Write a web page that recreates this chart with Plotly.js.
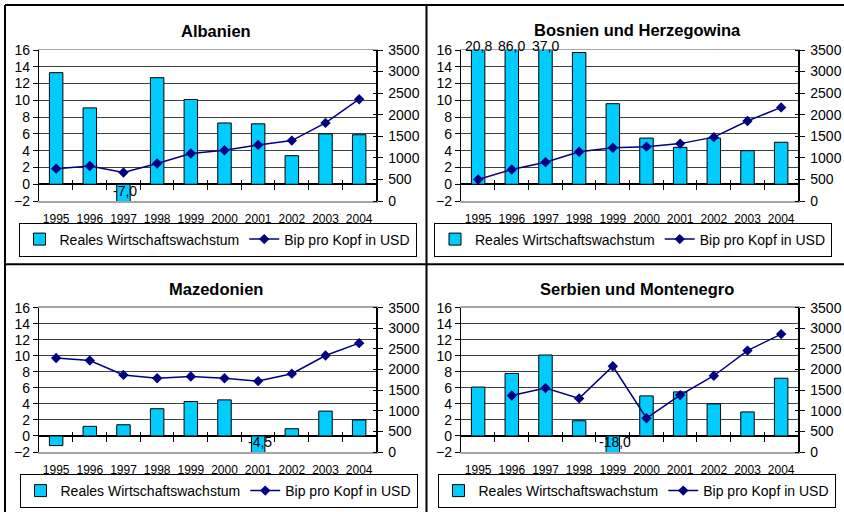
<!DOCTYPE html>
<html>
<head>
<meta charset="utf-8">
<script src="https://cdn.plot.ly/plotly-3.0.1.min.js"></script>
<style>html,body{margin:0;padding:0;background:#fff}#chart{width:844px;height:512px}</style>
</head>
<body>
<div id="chart"></div>
<script>
// ---- data ----
const years = ['1995','1996','1997','1998','1999','2000','2001','2002','2003','2004'];
const titles = ['Albanien', 'Bosnien und Herzegowina', 'Mazedonien', 'Serbien und Montenegro'];
const barName = 'Reales Wirtschaftswachstum';
const lineName = 'Bip pro Kopf in USD';
const albGrowth = [13.3, 9.1, -7.0, 12.7, 10.1, 7.3, 7.2, 3.4, 6.0, 5.9];
const albGdp    = [750, 810, 660, 870, 1100, 1175, 1300, 1400, 1810, 2360];
const bihGrowth = [20.8, 86.0, 37.0, 15.7, 9.6, 5.5, 4.4, 5.5, 4.0, 5.0];
const bihGdp    = [500, 730, 900, 1140, 1235, 1260, 1330, 1480, 1855, 2170];
const mkdGrowth = [-1.2, 1.2, 1.4, 3.4, 4.3, 4.5, -4.5, 0.9, 3.1, 2.0];
const mkdGdp    = [2280, 2220, 1870, 1790, 1830, 1790, 1720, 1900, 2340, 2640];
const scgGrowth = [6.1, 7.8, 10.1, 1.9, -18.0, 5.0, 5.5, 4.0, 3.0, 7.2];
const scgGdp    = [null, 1370, 1550, 1300, 2080, 820, 1380, 1850, 2460, 2860];
const growthTicks = [-2, 16, 2];   // min, max, step
const gdpTicks = [0, 3500, 500];

const growth = [albGrowth, bihGrowth, mkdGrowth, scgGrowth];
const gdp = [albGdp, bihGdp, mkdGdp, scgGdp];

// ---- layout geometry (pixels) ----
const W = 844, H = 512;
const px = v => v / W, py = v => 1 - v / H;
const panels = [
  {x0: 39.3, x1: 376, y0: 50, y1: 201, tx: 215.5, ty: 30.5, lx: 217.5, ly: 239.5},
  {x0: 461.3, x1: 798, y0: 50, y1: 201, tx: 637, ty: 30, lx: 633, ly: 239.5},
  {x0: 39.3, x1: 376, y0: 307.7, y1: 452, tx: 215.5, ty: 289, lx: 218.5, ly: 491},
  {x0: 461.3, x1: 798, y0: 307.7, y1: 452, tx: 637, ty: 289, lx: 636.5, ly: 491}
];
const FONT = 'Liberation Sans, Arial, sans-serif';
const barColor = '#00CCFF', lineColor = '#000080';
const tickMarkColor = '#000000';

const traces = [];
const layout = {
  width: W, height: H, margin: {l: 0, r: 0, t: 0, b: 0},
  paper_bgcolor: '#fff', plot_bgcolor: 'rgba(0,0,0,0)',
  font: {family: FONT, color: '#000'},
  bargap: 0.6, showlegend: true,
  annotations: [], shapes: []
};
const axName = (l, n) => n === 1 ? l + 'axis' : l + 'axis' + n;
const axId = (l, n) => n === 1 ? l : l + n;

const fmt = v => v.toFixed(1).replace('.', ',');

panels.forEach((p, i) => {
  const xm = i + 1, xo = i + 5, yl = i + 1, yr = i + 5, yt = i + 9;
  const legendId = i === 0 ? 'legend' : 'legend' + (i + 1);
  const yDom = [py(p.y1), py(p.y0)];
  const xDom = [px(p.x0), px(p.x1)];
  const gMin = growthTicks[0], gMax = growthTicks[1];

  traces.push({
    type: 'bar', x: years, y: growth[i], name: barName,
    xaxis: axId('x', xm), yaxis: axId('y', yl), legend: legendId,
    marker: {color: barColor, line: {color: '#000', width: 1}},
    hoverinfo: 'x+y'
  });
  traces.push({
    type: 'scatter', mode: 'lines+markers', x: years, y: gdp[i], name: lineName,
    xaxis: axId('x', xm), yaxis: axId('y', yr), legend: legendId,
    line: {color: lineColor, width: 1.5},
    marker: {symbol: 'diamond', size: 8, color: lineColor},
    connectgaps: false
  });
  // carrier traces (no visible marks) so the tick-only overlay axes get drawn
  traces.push({type: 'scatter', mode: 'markers', x: [0], y: [null],
    xaxis: axId('x', xo), yaxis: axId('y', yl), showlegend: false, hoverinfo: 'skip'});
  traces.push({type: 'scatter', mode: 'markers', x: [years[0]], y: [null],
    xaxis: axId('x', xm), yaxis: axId('y', yt), showlegend: false, hoverinfo: 'skip'});

  layout[axName('x', xm)] = {
    domain: xDom, anchor: axId('y', yl), type: 'category',
    range: [-0.5, years.length - 0.5],
    showgrid: false, zeroline: false, ticks: '',
    showline: true, linecolor: '#a6a6a6', linewidth: 1.5, mirror: true,
    tickfont: {size: 12, family: FONT}, ticklabelstandoff: 6
  };
  // zero-crossing category boundary ticks
  const zeroPos = yDom[0] + (0 - gMin) / (gMax - gMin) * (yDom[1] - yDom[0]);
  layout[axName('x', xo)] = {
    overlaying: axId('x', xm), anchor: 'free', position: zeroPos + 5 / H,
    type: 'linear', range: [-0.5, years.length - 0.5],
    tickmode: 'array', tickvals: years.slice(1).map((_, k) => k + 0.5),
    ticks: 'outside', ticklen: 10, tickcolor: tickMarkColor, tickwidth: 1,
    showticklabels: false, showgrid: false, zeroline: false, showline: false
  };
  layout[axName('y', yl)] = {
    domain: yDom, anchor: axId('x', xm),
    range: [gMin, gMax], tick0: 0, dtick: growthTicks[2],
    ticks: 'outside', ticklen: 5, tickcolor: '#000',
    showline: true, linecolor: '#000', linewidth: 1.5,
    showgrid: true, gridcolor: '#404040', gridwidth: 1,
    zeroline: true, zerolinecolor: '#000', zerolinewidth: 1.5,
    tickfont: {size: 14, family: FONT}
  };
  layout[axName('y', yr)] = {
    overlaying: axId('y', yl), anchor: axId('x', xm), side: 'right',
    range: [gdpTicks[0], gdpTicks[1]], tick0: 0, dtick: gdpTicks[2],
    ticks: 'outside', ticklen: 5, tickcolor: '#000',
    showline: true, linecolor: '#000', linewidth: 1.5,
    showgrid: false, zeroline: false, ticklabelstandoff: 3,
    tickfont: {size: 14, family: FONT}
  };
  // right-axis cross ticks (inner half)
  layout[axName('y', yt)] = {
    overlaying: axId('y', yl), anchor: 'free', side: 'right', position: px(p.x1 - 4),
    range: [gdpTicks[0], gdpTicks[1]], tick0: 0, dtick: gdpTicks[2],
    ticks: 'outside', ticklen: 4, tickcolor: tickMarkColor,
    showticklabels: false, showline: false, showgrid: false, zeroline: false
  };
  layout[legendId] = {
    orientation: 'h', x: px(p.lx), y: py(p.ly), xanchor: 'center', yanchor: 'middle',
    xref: 'paper', yref: 'paper',
    bgcolor: '#fff', bordercolor: '#000', borderwidth: 1,
    font: {size: 14, family: FONT}, itemwidth: 30, traceorder: 'normal'
  };
  layout.annotations.push({
    xref: 'paper', yref: 'paper', x: px(p.tx), y: py(p.ty),
    xanchor: 'center', yanchor: 'middle', showarrow: false,
    text: '<b>' + titles[i] + '</b>', font: {size: 16.5, family: FONT}
  });
  // labels for values outside the axis range (x given as category index)
  growth[i].forEach((v, k) => {
    if (v > gMax) {
      layout.annotations.push({
        xref: axId('x', xm), yref: axId('y', yl), x: k, y: gMax,
        yanchor: 'bottom', yshift: -6, showarrow: false, text: fmt(v),
        font: {size: 14, family: FONT}
      });
    } else if (v < gMin) {
      layout.annotations.push({
        xref: axId('x', xm), yref: axId('y', yl), x: k, y: gMin,
        yanchor: 'bottom', yshift: 0, xshift: 2, showarrow: false, text: fmt(v),
        font: {size: 14, family: FONT}
      });
    }
  });
});

// panel frame lines
const frame = [
  [5, 5, W, 5], [5, 5, 5, H], [426.5, 5, 426.5, H], [5, 264.3, W, 264.3]
];
frame.forEach(f => layout.shapes.push({
  type: 'line', xref: 'paper', yref: 'paper',
  x0: px(f[0]), y0: py(f[1]), x1: px(f[2]), y1: py(f[3]),
  line: {color: '#000', width: 2}
}));

Plotly.newPlot('chart', traces, layout, {staticPlot: true});
</script>
</body>
</html>
